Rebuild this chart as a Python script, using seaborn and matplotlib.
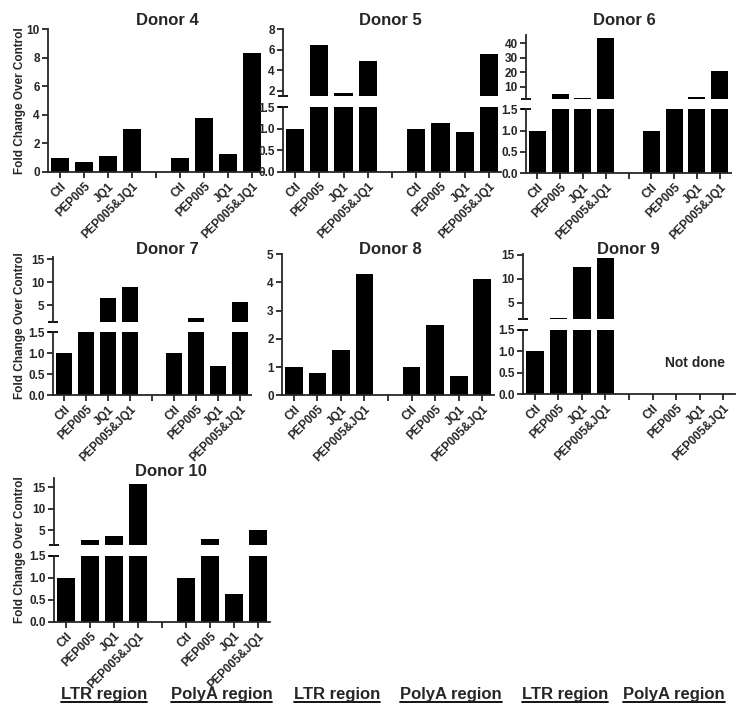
import numpy as np
import pandas as pd
import matplotlib
matplotlib.use("Agg")
import matplotlib.pyplot as plt
from matplotlib.lines import Line2D
import seaborn as sns

# fold change over control
TREATMENTS = ["Ctl", "PEP005", "JQ1", "PEP005&JQ1"]
REGIONS = ["LTR", "PolyA"]

donor4_ltr = [1.0, 0.67, 1.1, 3.0]
donor4_polya = [1.0, 3.8, 1.27, 8.35]
donor5_ltr = [1.0, 6.4, 1.75, 4.85]
donor5_polya = [1.0, 1.12, 0.92, 5.55]
donor6_ltr = [1.0, 5.0, 2.3, 44.0]
donor6_polya = [1.0, 1.5, 3.0, 21.0]
donor7_ltr = [1.0, 1.5, 6.5, 9.0]
donor7_polya = [1.0, 2.4, 0.7, 5.8]
donor8_ltr = [1.0, 0.79, 1.6, 4.3]
donor8_polya = [1.0, 2.5, 0.7, 4.1]
donor9_ltr = [1.0, 1.7, 12.4, 14.4]
donor9_polya = [np.nan, np.nan, np.nan, np.nan]  # not done
donor10_ltr = [1.0, 2.7, 3.7, 15.7]
donor10_polya = [1.0, 2.8, 0.62, 5.1]

ORDER = [f"LTR {t}" for t in TREATMENTS] + ["gap"] + [f"PolyA {t}" for t in TREATMENTS]
TICK_LABELS = TREATMENTS + [""] + TREATMENTS
REGION_LABELS = ["LTR region", "PolyA region"] * 3

W, H = 750, 724
LW = 1.3
FS = 8.5

sns.set_style("ticks")
plt.rcParams["font.family"] = ["Liberation Sans", "DejaVu Sans"]
plt.rcParams["font.weight"] = "bold"


def bar_frame(ltr, polya):
    rows = []
    for region, vals in zip(REGIONS, [ltr, polya]):
        for t, v in zip(TREATMENTS, vals):
            rows.append({"slot": f"{region} {t}", "value": v})
    return pd.DataFrame(rows)


def px_axes(fig, left, right, top, bottom):
    return fig.add_axes([left / W, 1 - bottom / H, (right - left) / W, (bottom - top) / H])


def style(ax):
    sns.despine(ax=ax)
    for s in ["left", "bottom"]:
        ax.spines[s].set_linewidth(LW)
    ax.tick_params(direction="out", length=4, width=LW, labelsize=FS, pad=2)
    ax.set_xlabel("")
    ax.set_ylabel("")


def draw_bars(ax, df):
    sns.barplot(data=df, x="slot", y="value", order=ORDER, color="black",
                linewidth=0, saturation=1, width=0.75, errorbar=None, ax=ax)
    ax.set_xlim(-0.5, len(ORDER) - 0.5)


def set_xlabels(ax):
    ax.set_xticks(range(len(ORDER)))
    ax.set_xticklabels(TICK_LABELS, rotation=45, ha="right", rotation_mode="anchor",
                       fontsize=FS, fontweight="bold")


# layout in pixels: left, right, top, bottom; broken panels also give the break
panels = [
    dict(name="Donor 4", ltr=donor4_ltr, polya=donor4_polya, box=(48, 264, 29, 172),
         ylim=(0, 10), yticks=[0, 2, 4, 6, 8, 10], title_x=167, title_y=25),
    dict(name="Donor 5", ltr=donor5_ltr, polya=donor5_polya, box=(283, 501, 29, 172),
         brk=(95.7, 107), top=8, upticks=[2, 4, 6, 8], title_x=390, title_y=25),
    dict(name="Donor 6", ltr=donor6_ltr, polya=donor6_polya, box=(526, 731, 34.6, 173),
         brk=(99.3, 109.3), top=46, upticks=[10, 20, 30, 40], title_x=624, title_y=25),
    dict(name="Donor 7", ltr=donor7_ltr, polya=donor7_polya, box=(53, 251, 256.7, 395),
         brk=(321.7, 332.3), top=15.5, upticks=[5, 10, 15], title_x=167, title_y=254),
    dict(name="Donor 8", ltr=donor8_ltr, polya=donor8_polya, box=(282, 494, 254, 395.3),
         ylim=(0, 5), yticks=[0, 1, 2, 3, 4, 5], title_x=390, title_y=254),
    dict(name="Donor 9", ltr=donor9_ltr, polya=donor9_polya, box=(523, 735, 254, 394.3),
         brk=(319.3, 330), top=15.2, upticks=[5, 10, 15], title_x=628, title_y=254),
    dict(name="Donor 10", ltr=donor10_ltr, polya=donor10_polya, box=(54, 270, 478, 621.7),
         brk=(545, 555.7), top=17.2, upticks=[5, 10, 15], title_x=171, title_y=476),
]

fig = plt.figure(figsize=(W / 100, H / 100), dpi=100)

for p in panels:
    df = bar_frame(p["ltr"], p["polya"])
    left, right, top, bottom = p["box"]
    if "brk" not in p:
        ax = px_axes(fig, left, right, top, bottom)
        draw_bars(ax, df)
        style(ax)
        ax.set_ylim(*p["ylim"])
        ax.set_yticks(p["yticks"])
        ax.set_yticklabels([str(t) for t in p["yticks"]], fontweight="bold")
        set_xlabels(ax)
    else:
        up_bottom, low_top = p["brk"]
        upper = px_axes(fig, left, right, top, up_bottom)
        lower = px_axes(fig, left, right, low_top, bottom)
        draw_bars(upper, df)
        draw_bars(lower, df)
        style(upper)
        style(lower)
        upper.spines["bottom"].set_visible(False)
        upper.tick_params(axis="x", bottom=False, labelbottom=False)
        upper.set_ylim(1.5, p["top"])
        upper.set_yticks(p["upticks"])
        upper.set_yticklabels([str(t) for t in p["upticks"]], fontweight="bold")
        lower.set_ylim(0, 1.5)
        lower.set_yticks([0, 0.5, 1.0, 1.5])
        lower.set_yticklabels(["0.0", "0.5", "1.0", "1.5"], fontweight="bold")
        set_xlabels(lower)
        # axis break caps
        upper.plot([0], [0], marker="_", ms=7, mew=LW, color="black",
                   transform=upper.transAxes, clip_on=False)
        lower.plot([0], [1], marker="_", ms=7, mew=LW, color="black",
                   transform=lower.transAxes, clip_on=False)
    fig.text(p["title_x"] / W, 1 - p["title_y"] / H, p["name"], ha="center",
             va="baseline", fontsize=12, fontweight="bold")

# y labels on the left column
for top, bottom in [(29, 172), (256.7, 395), (478, 621.7)]:
    fig.text(20 / W, 1 - (top + bottom) / 2 / H, "Fold Change Over Control",
             rotation=90, ha="center", va="center", fontsize=FS, fontweight="bold")

fig.text(695 / W, 1 - 363 / H, "Not done", ha="center", va="center",
         fontsize=10, fontweight="bold")

# underlined region labels along the bottom
region_x = [104, 221.5, 337, 451, 565, 674]
renderer = fig.canvas.get_renderer()
for x, label in zip(region_x, REGION_LABELS):
    t = fig.text(x / W, 1 - 699 / H, label, ha="center", va="baseline",
                 fontsize=12, fontweight="bold")
    bb = t.get_window_extent(renderer)
    y = 1 - 701.5 / H
    fig.add_artist(Line2D([bb.x0 / W, bb.x1 / W], [y, y], color="black",
                          lw=LW, transform=fig.transFigure))

fig.savefig("out.png", dpi=100)
